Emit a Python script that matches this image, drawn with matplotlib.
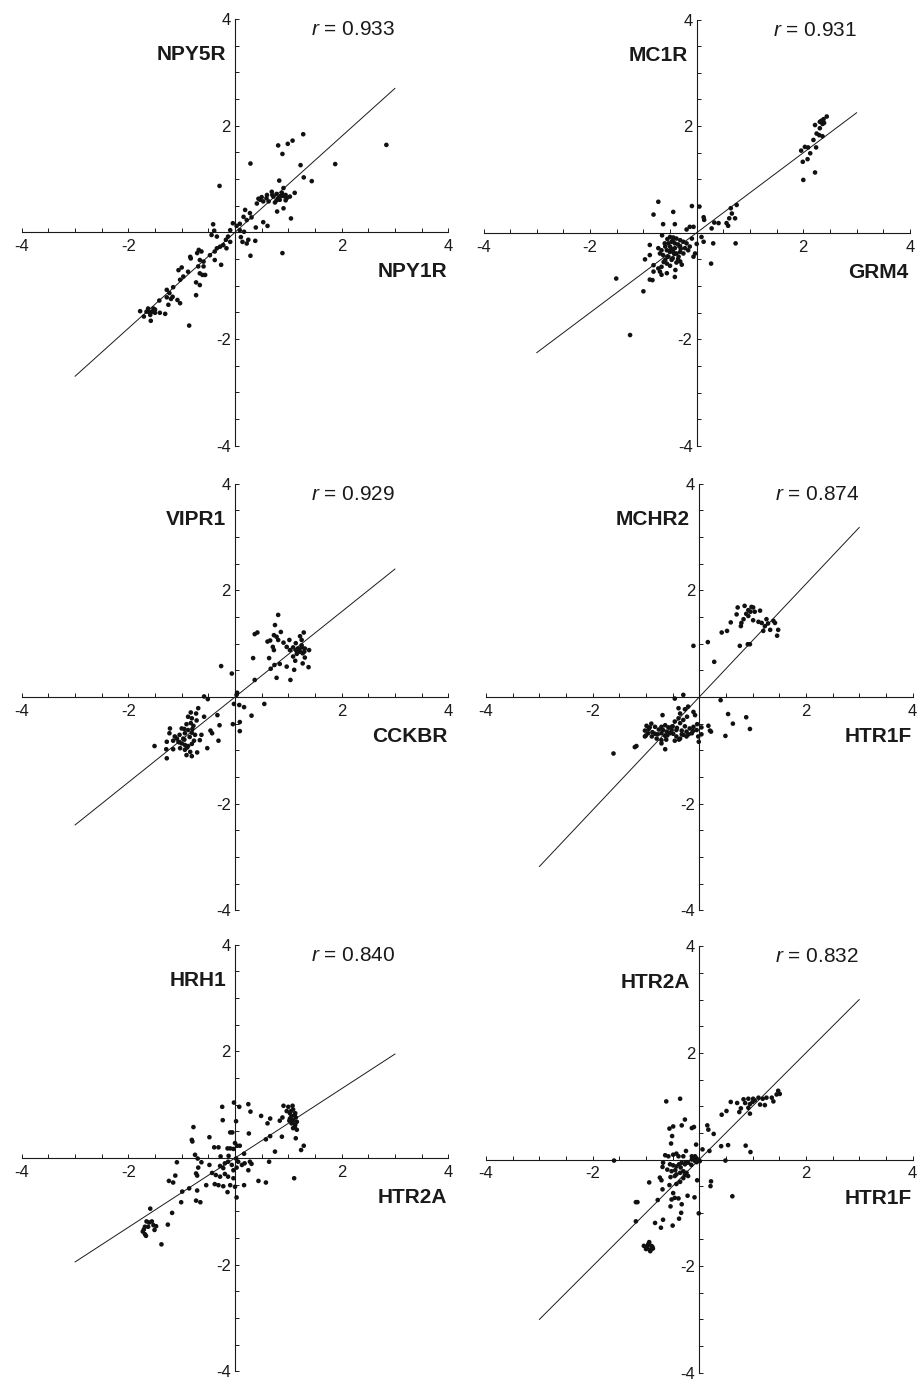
"""
Six gene-vs-gene expression scatter panels, axes crossing at the origin
"""
import numpy as np
import matplotlib
matplotlib.use("Agg")
import matplotlib.pyplot as plt

plt.rcParams["font.family"] = ["Liberation Sans", "DejaVu Sans"]
plt.rcParams["mathtext.fontset"] = "custom"
plt.rcParams["mathtext.it"] = "Liberation Sans:italic"
plt.rcParams["mathtext.rm"] = "Liberation Sans"

# ---- data ----
x_genes = ["NPY1R", "GRM4", "CCKBR", "HTR1F", "HTR2A", "HTR1F"]
y_genes = ["NPY5R", "MC1R", "VIPR1", "MCHR2", "HRH1", "HTR2A"]
r_values = [0.933, 0.931, 0.929, 0.874, 0.840, 0.832]
fit_slopes = [0.90, 0.75, 0.80, 1.06, 0.65, 1.00]

x1 = [1.28, 1.08, 0.99, 0.81, 0.89, 2.84, 1.88, 1.23, 0.29, 1.29, 1.44, 0.83, -0.29,
      0.69, 0.78, 0.88, 0.95, 1.12, 0.91, 0.81, 0.72, 0.59, 0.47, 0.53, 0.41, 0.44, 0.50,
      0.63, 0.75, 0.84, 0.97, 1.03, 0.91,
      0.79, 0.91, 1.05, 0.53, 0.61, 0.39, 0.19, 0.28, 0.31, 0.22, 0.16, 0.09, 0.03, -0.04,
      -0.09, -0.41, -0.39, -0.34, -0.44, -0.13, -0.17, -0.09, -0.22, -0.16, -0.28, -0.34,
      -0.38, -0.47, -0.26, -0.38, 0.11, 0.14, 0.22, 0.25, 0.38, 0.29, 0.89, 0.09, 0.17,
      -0.68, -0.63, -0.71, -0.84, -0.83, -0.66, -0.59, -0.69, -0.59, -0.66, -0.56, -0.61,
      -1.00, -1.06, -0.88, -0.97, -1.03, -0.73, -0.66, -1.16, -1.28, -1.23, -0.73, -1.28,
      -1.17, -1.08, -1.03, -1.42, -1.25, -1.31, -1.53, -1.63, -1.56, -1.50, -1.66, -1.78,
      -1.71, -1.59, -1.41, -1.58, -0.86,
      0.70, 0.85, 0.95, 0.60, 0.78, -1.60, -1.50, -1.20]
y1 = [1.84, 1.72, 1.66, 1.63, 1.47, 1.64, 1.28, 1.26, 1.29, 1.03, 0.96, 0.97, 0.87,
      0.76, 0.72, 0.74, 0.70, 0.74, 0.83, 0.64, 0.67, 0.64, 0.61, 0.58, 0.54, 0.63, 0.66,
      0.58, 0.56, 0.61, 0.64, 0.67, 0.68,
      0.39, 0.45, 0.26, 0.19, 0.12, 0.09, 0.42, 0.36, 0.28, 0.23, 0.29, 0.16, 0.12, 0.17,
      0.04, 0.15, 0.03, -0.08, -0.05, -0.08, -0.14, -0.18, -0.24, -0.30, -0.27, -0.30,
      -0.36, -0.43, -0.61, -0.52, -0.09, -0.18, -0.21, -0.14, -0.16, -0.44, -0.39, 0.04, 0.01,
      -0.33, -0.36, -0.39, -0.46, -0.49, -0.52, -0.55, -0.64, -0.64, -0.77, -0.80, -0.80,
      -0.66, -0.71, -0.74, -0.83, -0.89, -0.94, -0.99, -1.03, -1.08, -1.14, -1.18, -1.22,
      -1.21, -1.27, -1.33, -1.28, -1.36, -1.53, -1.43, -1.43, -1.49, -1.51, -1.49, -1.48,
      -1.58, -1.55, -1.51, -1.66, -1.75,
      0.70, 0.68, 0.60, 0.70, 0.60, -1.50, -1.45, -1.25]

x2 = [2.44, 2.38, 2.34, 2.31, 2.39, 2.36, 2.22, 2.31, 2.25, 2.30, 2.36, 2.19, 2.24, 2.09,
      2.03, 1.96, 2.13, 2.08, 1.99, 2.22, 2.00,
      0.75, 0.64, 0.66, 0.72, 0.61, 0.56, 0.59, 0.41, 0.33, 0.28, 0.13, 0.14, 0.05, -0.09,
      -0.72, -0.81, -0.44, -0.63, -0.41, -0.13, -0.06, -0.19, 0.09, 0.13, 0.31, 0.73, 0.27,
      -0.50, -0.44, -0.38, -0.47, -0.53, -0.41, -0.31, -0.25, -0.19, -0.09, 0.00, -0.03,
      -0.06, -0.16, -0.22, -0.31, -0.38, -0.44, -0.56, -0.66, -0.72, -0.63, -0.53, -0.47,
      -0.38, -0.31, -0.56, -0.66, -0.72, -0.81, -0.88, -0.97, -0.88, -0.69, -0.66, -0.56,
      -0.41, -0.81, -0.83, -0.88, -1.00, -1.51, -1.25,
      -0.50, -0.59, -0.41, -0.50, -0.34, -0.25, -0.13, -0.31, -0.69, -0.59,
      -0.55, -0.45, -0.35, -0.60, -0.48, -0.42, -0.30, -0.55, -0.45, -0.35, -0.62, -0.50,
      -0.40, -0.28, -0.65]
y2 = [2.18, 2.13, 2.10, 2.08, 2.06, 2.04, 2.02, 1.96, 1.86, 1.83, 1.81, 1.74, 1.60, 1.60,
      1.61, 1.54, 1.49, 1.38, 1.33, 1.13, 0.99,
      0.52, 0.46, 0.36, 0.27, 0.27, 0.18, 0.13, 0.18, 0.19, 0.08, 0.29, 0.24, 0.49, 0.50,
      0.58, 0.34, 0.39, 0.16, 0.16, 0.11, 0.11, 0.06, -0.08, -0.17, -0.20, -0.20, -0.58,
      -0.08, -0.09, -0.11, -0.17, -0.20, -0.20, -0.14, -0.17, -0.20, -0.11, -0.21, -0.39,
      -0.45, -0.33, -0.29, -0.36, -0.39, -0.36, -0.33, -0.33, -0.29, -0.42, -0.45, -0.51,
      -0.56, -0.54, -0.58, -0.64, -0.67, -0.61, -0.42, -0.50, -0.23, -0.73, -0.79, -0.76,
      -0.83, -0.73, -0.89, -0.88, -1.10, -0.86, -1.92,
      -0.26, -0.26, -0.29, -0.36, -0.45, -0.39, -0.26, -0.26, -0.39, -0.51,
      -0.12, -0.15, -0.22, -0.20, -0.30, -0.40, -0.30, -0.45, -0.48, -0.50, -0.55, -0.62,
      -0.70, -0.60, -0.05]

x3 = [0.81, 0.75, 0.86, 0.42, 0.37, 0.73, 0.78, 0.81, 0.91, 1.02, 0.61, 0.66, 0.71, 0.73,
      1.22, 1.29, 1.25, 1.14, 1.09, 1.18, 1.25, 1.31, 1.39, 1.22, 1.27, 1.16, 1.09, 1.31,
      1.03, 0.97, 0.64, 0.34, 1.13, 1.27, 1.38, 0.84, 0.97, 0.74, 0.67, 1.11, 0.78, 1.04,
      0.37, -0.26, -0.06, 0.04, 0.03,
      -0.58, -0.51, -0.02, 0.08, 0.17, 0.55, 0.31, 0.09, -0.04, 0.09, -0.33, -0.29, -0.46,
      -0.43, -0.31, -0.52, -0.58,
      -0.69, -0.83, -0.73, -0.88, -0.81, -0.72, -0.83, -0.91, -0.78, -1.00, -0.88, -0.81,
      -0.94, -0.75, -0.66, -1.04, -1.13, -1.22, -1.23, -1.28, -1.16, -1.06, -1.00, -0.94,
      -0.88, -0.81, -1.03, -0.94, -0.84, -0.91, -0.81, -0.71, -1.16, -1.29, -1.28, -1.51,
      -0.97, -1.09, -0.77, -0.63,
      1.20, 1.25, 1.30, 1.15, -0.95, -0.85, -1.05, -0.90, -0.80, -0.95]
y3 = [1.54, 1.35, 1.22, 1.21, 1.18, 1.16, 1.13, 1.07, 1.02, 1.07, 1.04, 1.06, 0.94, 0.88,
      1.14, 1.21, 1.07, 1.01, 0.93, 0.91, 0.93, 0.91, 0.88, 0.85, 0.82, 0.81, 0.76, 0.74,
      0.88, 0.94, 0.73, 0.73, 0.68, 0.63, 0.56, 0.62, 0.57, 0.60, 0.53, 0.51, 0.36, 0.32,
      0.32, 0.58, 0.44, 0.08, 0.04,
      0.01, -0.04, -0.13, -0.15, -0.19, -0.13, -0.35, -0.47, -0.51, -0.64, -0.34, -0.53,
      -0.63, -0.68, -0.82, -0.96, -0.37,
      -0.21, -0.29, -0.31, -0.37, -0.40, -0.44, -0.49, -0.51, -0.54, -0.59, -0.62, -0.67,
      -0.68, -0.71, -0.81, -0.71, -0.74, -0.59, -0.68, -0.84, -0.82, -0.84, -0.87, -0.90,
      -0.92, -0.88, -0.96, -0.99, -1.03, -1.09, -1.11, -1.04, -0.98, -0.98, -1.15, -0.92,
      -0.78, -0.78, -0.82, -0.71,
      0.90, 0.97, 0.85, 0.87, -0.80, -0.75, -0.85, -0.95, -0.60, -0.60]

x4 = [0.72, 0.85, 0.98, 1.01, 0.92, 0.96, 1.04, 1.14, 0.70, 0.88, 0.92, 0.83, 1.01, 1.11,
      1.17, 1.26, 1.39, 1.42, 1.29, 1.23, 1.20, 1.33, 1.48, 1.46, 0.79, 0.78, 0.59, 0.52,
      0.42, 0.16, -0.11, 0.28, 0.76, 0.91, 0.95,
      -0.46, -0.30, 0.40, 0.54, 0.88, 0.63, 0.95, 0.49, 0.20, 0.22, 0.17, 0.04, -0.01,
      -0.04, -0.08, -0.11, -0.21, -0.27, -0.39, -0.36, -0.69,
      -0.23, -0.30, -0.36, -0.39, -0.46, -0.52, -0.58, -0.64, -0.71, -0.76, -0.83, -0.93,
      -0.99, -1.02, -0.96, -0.89, -1.02, -0.80, -0.71, -0.64, -0.55, -0.49, -0.43, -0.46,
      -0.36, -0.30, -0.24, -0.18, -0.11, -0.05, -0.14, -0.24, -0.33, -0.43, -0.52, -0.61,
      -0.71, -0.83, -1.18, -1.21, -1.61, -0.64, -0.71, 0.04, -0.02,
      -0.95, -0.88, -0.78, -0.68, -0.60, -0.50, -0.42, -0.33, -0.27, -0.20, -0.12, -1.00,
      -0.90, -0.62, -0.38]
y4 = [1.68, 1.71, 1.69, 1.68, 1.63, 1.60, 1.60, 1.62, 1.55, 1.56, 1.52, 1.46, 1.44, 1.41,
      1.39, 1.46, 1.43, 1.39, 1.38, 1.33, 1.24, 1.26, 1.26, 1.15, 1.39, 1.33, 1.40, 1.24,
      1.21, 1.03, 0.96, 0.66, 0.96, 0.99, 0.99,
      -0.03, 0.04, -0.06, -0.32, -0.38, -0.50, -0.60, -0.73, -0.63, -0.65, -0.54, -0.70,
      -0.84, -0.51, -0.34, -0.28, -0.18, -0.23, -0.21, -0.31, -0.34,
      -0.37, -0.43, -0.49, -0.40, -0.46, -0.56, -0.57, -0.53, -0.56, -0.61, -0.56, -0.57,
      -0.54, -0.63, -0.68, -0.74, -0.74, -0.78, -0.81, -0.73, -0.68, -0.69, -0.74, -0.82,
      -0.78, -0.71, -0.65, -0.59, -0.56, -0.62, -0.68, -0.74, -0.63, -0.62, -0.62, -0.65,
      -0.68, -0.69, -0.92, -0.94, -1.06, -0.98, -0.87, -0.57, -0.74,
      -0.60, -0.66, -0.70, -0.62, -0.72, -0.55, -0.58, -0.70, -0.55, -0.70, -0.64, -0.72,
      -0.50, -0.80, -0.80]

x5 = [0.91, 1.00, 1.08, 1.09, 0.97, 1.03, 1.13, 1.06, 1.14, 1.03, 1.09, 1.16, 1.06, 1.13,
      1.09, 1.16, 1.14, 0.89, 0.84, 0.88, 1.11, 1.29, 1.24, 0.75, 0.64, 0.58, 0.44,
      -0.02, 0.08, 0.25, 0.29, 0.49, 0.66, 0.61, -0.24, -0.23, 0.02, -0.78, 0.26, -0.09,
      -0.05, 0.66, 0.58, -0.48, -0.81, -0.80, -0.39, -0.31, 0.00, 0.04, 0.09, -0.14, -0.09,
      -0.03, 0.17, -0.75, -0.70, -0.27, -0.12, 0.02, 0.06, 0.13, 0.18, 0.28, 0.31, 0.25,
      -1.09, -0.63, -0.48, -0.69, -0.28, -0.19, -0.13, -0.06, -0.22, -0.03, 0.03, -0.43,
      -0.36, -0.28, -0.19, -0.13, -0.03, -0.73, -0.71, -1.12, -1.24, -1.16, -0.54, -0.38,
      -0.31, -0.22, -0.09, 0.00, 0.17, 0.03, -0.14, -0.86, -0.99, -0.71, -1.01, -0.73,
      -0.65, -1.18, -1.59,
      -1.66, -1.61, -1.56, -1.69, -1.63, -1.71, -1.73, -1.69, -1.67, -1.53, -1.48, -1.51,
      -1.26, -1.38,
      1.05, 1.12, 1.08, 1.12, 1.02]
y5 = [0.98, 0.96, 0.98, 0.91, 0.88, 0.84, 0.84, 0.79, 0.76, 0.74, 0.71, 0.68, 0.65, 0.62,
      0.56, 0.53, 0.37, 0.76, 0.70, 0.40, -0.38, 0.23, 0.15, 0.12, -0.07, -0.46, -0.43,
      1.04, 0.96, 1.01, 0.87, 0.79, 0.74, 0.65, 0.96, 0.71, 0.69, 0.58, 0.46, 0.48,
      0.48, 0.41, 0.35, 0.39, 0.34, 0.31, 0.20, 0.20, 0.28, 0.23, 0.23, 0.18, 0.18,
      0.17, 0.08, 0.06, -0.01, 0.03, 0.04, -0.01, -0.07, -0.13, -0.10, -0.07, -0.11, -0.23,
      -0.08, -0.08, -0.13, -0.18, -0.15, -0.10, -0.07, -0.13, -0.19, -0.23, -0.18, -0.28,
      -0.32, -0.35, -0.30, -0.35, -0.38, -0.29, -0.33, -0.33, -0.43, -0.46, -0.51, -0.49,
      -0.51, -0.53, -0.51, -0.54, -0.51, -0.74, -0.64, -0.57, -0.63, -0.61, -0.83, -0.80,
      -0.83, -1.03, -0.95,
      -1.19, -1.21, -1.19, -1.29, -1.29, -1.34, -1.38, -1.43, -1.46, -1.26, -1.28, -1.35,
      -1.25, -1.62,
      0.88, 0.80, 0.68, 0.58, 0.70]

x6 = [1.48, 1.51, 1.45, 1.36, 1.39, 1.26, 1.19, 1.11, 1.01, 0.92, 0.83, 0.86, 0.95, 1.00,
      1.04, 1.14, 1.23, 0.92, 0.78, 0.75, 0.95, 0.71, 0.59, 0.51, 0.42, 0.27, 0.17, 0.15,
      0.54, 0.41, 0.87, 0.96, 0.49, 0.19, 0.06, -0.06, 0.62, 0.22, 0.21, -0.04, -0.09,
      -0.22, -0.01,
      -0.62, -0.36, -0.27, -0.33, -0.49, -0.56, -0.14, -0.10, -0.51, -0.53, -0.25,
      -0.64, -0.58, -0.49, -0.43, -0.39, -0.30, -0.14, -0.11, -0.08, -0.05, -0.02, 0.01,
      -0.08, -0.14, -0.21, -0.27, -0.33, -0.38, -0.43, -0.49, -0.55, -0.68, -0.69, -0.60,
      -0.52, -0.43, -0.36, -0.30, -0.24, -0.21, -0.27, -0.46, -0.54, -0.74, -0.71, -0.36,
      -0.43, -0.56, -0.94, -0.69, -0.78, -0.49, -0.46, -0.39, -0.52, -0.54, -0.33, -1.19,
      -1.16, -0.34, -0.38, -0.50, -0.68, -0.83, -0.72, -1.19, -1.60,
      -0.95, -0.90, -0.98, -0.93, -0.88, -0.96, -1.00, -0.92, -0.87, -0.94, -0.99, -0.91,
      -1.04,
      -0.35, -0.25, -0.45, -0.30, -0.15, -0.05]
y6 = [1.29, 1.23, 1.22, 1.16, 1.09, 1.16, 1.14, 1.16, 1.14, 1.14, 1.13, 1.06, 1.04, 1.08,
      1.11, 1.03, 1.02, 0.97, 0.96, 0.89, 0.86, 1.06, 1.08, 0.91, 0.84, 0.48, 0.56, 0.64,
      0.27, 0.25, 0.26, 0.14, -0.02, 0.16, 0.19, 0.28, -0.69, -0.41, -0.50, -0.39, -0.71,
      -0.68, -1.01,
      1.09, 1.14, 0.75, 0.64, 0.62, 0.58, 0.59, 0.61, 0.44, 0.30, 0.16,
      0.08, 0.06, 0.09, 0.11, 0.06, 0.06, 0.06, 0.03, 0.06, 0.02, -0.02, -0.03,
      -0.03, 0.00, -0.06, -0.09, -0.06, -0.09, -0.13, -0.11, -0.09, -0.06, -0.14, -0.19,
      -0.22, -0.28, -0.25, -0.22, -0.25, -0.31, -0.29, -0.31, -0.33, -0.34, -0.39, -0.42,
      -0.46, -0.48, -0.43, -0.56, -0.76, -0.63, -0.72, -0.73, -0.75, -0.88, -0.84, -0.80,
      -0.80, -1.00, -1.11, -1.24, -1.13, -1.19, -1.28, -1.16, -0.02,
      -1.58, -1.62, -1.66, -1.70, -1.64, -1.60, -1.68, -1.72, -1.67, -1.55, -1.65, -1.69,
      -1.62,
      -0.15, -0.05, -0.20, -0.35, -0.10, -0.05]

xs = [x1, x2, x3, x4, x5, x6]
ys = [y1, y2, y3, y4, y5, y6]

# ---- layout: pixel origin of each panel, px per data unit ----
W, H = 917, 1381
SCALE = 53.3
origins = [(235.0, 232.3), (696.7, 232.7),
           (235.0, 697.0), (699.3, 697.0),
           (235.0, 1158.0), (699.3, 1159.5)]

ticks = np.arange(-4, 4.01, 0.5)
labels = ["%d" % t if t in (-4, -2, 2, 4) else "" for t in ticks]


def draw_panel(fig, i):
    ox, oy = origins[i]
    half = 4 * SCALE
    rect = [(ox - half) / W, 1 - (oy + half) / H, 2 * half / W, 2 * half / H]
    ax = fig.add_axes(rect)
    ax.set_xlim(-4, 4)
    ax.set_ylim(-4, 4)
    for side in ("top", "right"):
        ax.spines[side].set_visible(False)
    for side in ("left", "bottom"):
        ax.spines[side].set_position(("data", 0))
        ax.spines[side].set_linewidth(0.8)
        ax.spines[side].set_color("#1a1a1a")
    ax.patch.set_visible(False)

    ax.set_xticks(ticks)
    ax.set_xticklabels(labels)
    ax.set_yticks(ticks)
    ax.set_yticklabels(labels)
    ax.tick_params(direction="in", length=3.2, width=0.7, colors="#1a1a1a",
                   labelsize=12, labelcolor="#1a1a1a")
    ax.tick_params(axis="x", pad=5)
    ax.tick_params(axis="y", pad=3)

    line_x = np.array([-3.0, 3.0])
    ax.plot(line_x, fit_slopes[i] * line_x, color="#1a1a1a", lw=0.7, zorder=2)
    ax.scatter(xs[i], ys[i], s=11, color="#111111", edgecolors="none", zorder=3)

    ax.text(3.0, 3.8, "$r$ = %.3f" % r_values[i], ha="right", va="center",
            fontsize=15, color="#1a1a1a")
    ax.text(-0.17, 3.33, y_genes[i], ha="right", va="center", fontsize=15,
            fontweight="bold", color="#1a1a1a")
    ax.text(3.98, -0.74, x_genes[i], ha="right", va="center", fontsize=15,
            fontweight="bold", color="#1a1a1a")
    return ax


def main() -> None:
    fig = plt.figure(figsize=(W / 100, H / 100), dpi=100)
    for i in range(6):
        draw_panel(fig, i)
    fig.savefig("out.png", dpi=100)


if __name__ == "__main__":
    main()
